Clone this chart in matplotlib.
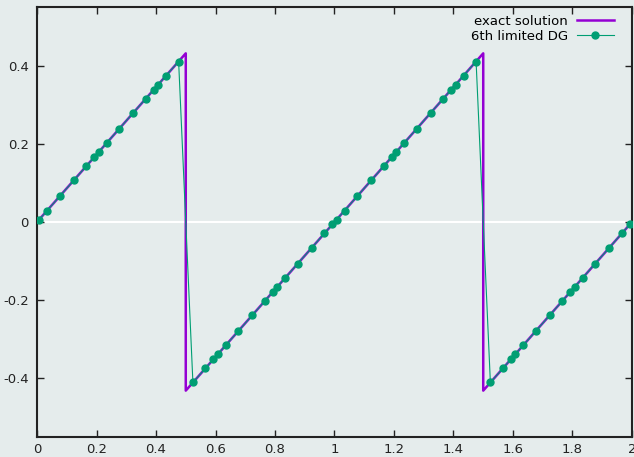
import matplotlib
matplotlib.use('Agg')
import matplotlib.pyplot as plt

# exact sawtooth solution (corner points)
exact_x = [0.0, 0.5, 0.5, 1.5, 1.5, 2.0]
exact_u = [0.0, 0.433, -0.433, 0.433, -0.433, 0.0]

# limited DG solution sampled at Gauss points (6 per cell, 10 cells)
dg_x = [0.007, 0.034, 0.076, 0.124, 0.166, 0.193,
        0.207, 0.234, 0.276, 0.324, 0.366, 0.393,
        0.407, 0.434, 0.476, 0.524, 0.566, 0.593,
        0.607, 0.634, 0.676, 0.724, 0.766, 0.793,
        0.807, 0.834, 0.876, 0.924, 0.966, 0.993,
        1.007, 1.034, 1.076, 1.124, 1.166, 1.193,
        1.207, 1.234, 1.276, 1.324, 1.366, 1.393,
        1.407, 1.434, 1.476, 1.524, 1.566, 1.593,
        1.607, 1.634, 1.676, 1.724, 1.766, 1.793,
        1.807, 1.834, 1.876, 1.924, 1.966, 1.993]
dg_u = [0.006, 0.029, 0.066, 0.107, 0.144, 0.167,
        0.179, 0.203, 0.239, 0.281, 0.317, 0.340,
        0.352, 0.376, 0.412, -0.412, -0.376, -0.352,
        -0.340, -0.317, -0.281, -0.239, -0.203, -0.179,
        -0.167, -0.144, -0.107, -0.066, -0.029, -0.006,
        0.006, 0.029, 0.066, 0.107, 0.144, 0.167,
        0.179, 0.203, 0.239, 0.281, 0.317, 0.340,
        0.352, 0.376, 0.412, -0.412, -0.376, -0.352,
        -0.340, -0.317, -0.281, -0.239, -0.203, -0.179,
        -0.167, -0.144, -0.107, -0.066, -0.029, -0.006]

xticks = [0, 0.2, 0.4, 0.6, 0.8, 1, 1.2, 1.4, 1.6, 1.8, 2]
xtick_labels = ['0', '0.2', '0.4', '0.6', '0.8', '1', '1.2', '1.4', '1.6', '1.8', '2']
yticks = [-0.4, -0.2, 0, 0.2, 0.4]
ytick_labels = ['-0.4', '-0.2', '0', '0.2', '0.4']

bg = '#e5ecec'
fig = plt.figure(figsize=(6.34, 4.57), dpi=100, facecolor=bg)
ax = fig.add_axes([0.0584, 0.0438, 0.9384, 0.9409])
ax.set_facecolor(bg)

ax.axhline(0, color='white', lw=1.5, zorder=1)
ax.plot(exact_x, exact_u, color='#9400d3', lw=1.8, label='exact solution', zorder=2)
ax.plot(dg_x, dg_u, color='#009e73', lw=0.8, marker='o', markersize=5,
        label='6th limited DG', zorder=3)

ax.set_xlim(0, 2)
ax.set_ylim(-0.552, 0.552)
ax.set_xticks(xticks)
ax.set_xticklabels(xtick_labels)
ax.set_yticks(yticks)
ax.set_yticklabels(ytick_labels)
ax.tick_params(direction='in', length=5, width=1, top=True, right=True,
               labelsize=9.5, colors='#222222')
ax.tick_params(axis='x', pad=4)
ax.tick_params(axis='y', pad=6)
for s in ax.spines.values():
    s.set_linewidth(1.5)
    s.set_color('#222222')

ax.legend(loc='upper right', bbox_to_anchor=(0.983, 1.0), frameon=False,
          markerfirst=False, fontsize=9.5, handlelength=2.8, borderaxespad=0.2,
          labelspacing=0.15, handletextpad=0.7)

fig.savefig('out.png', dpi=100, facecolor=bg)
